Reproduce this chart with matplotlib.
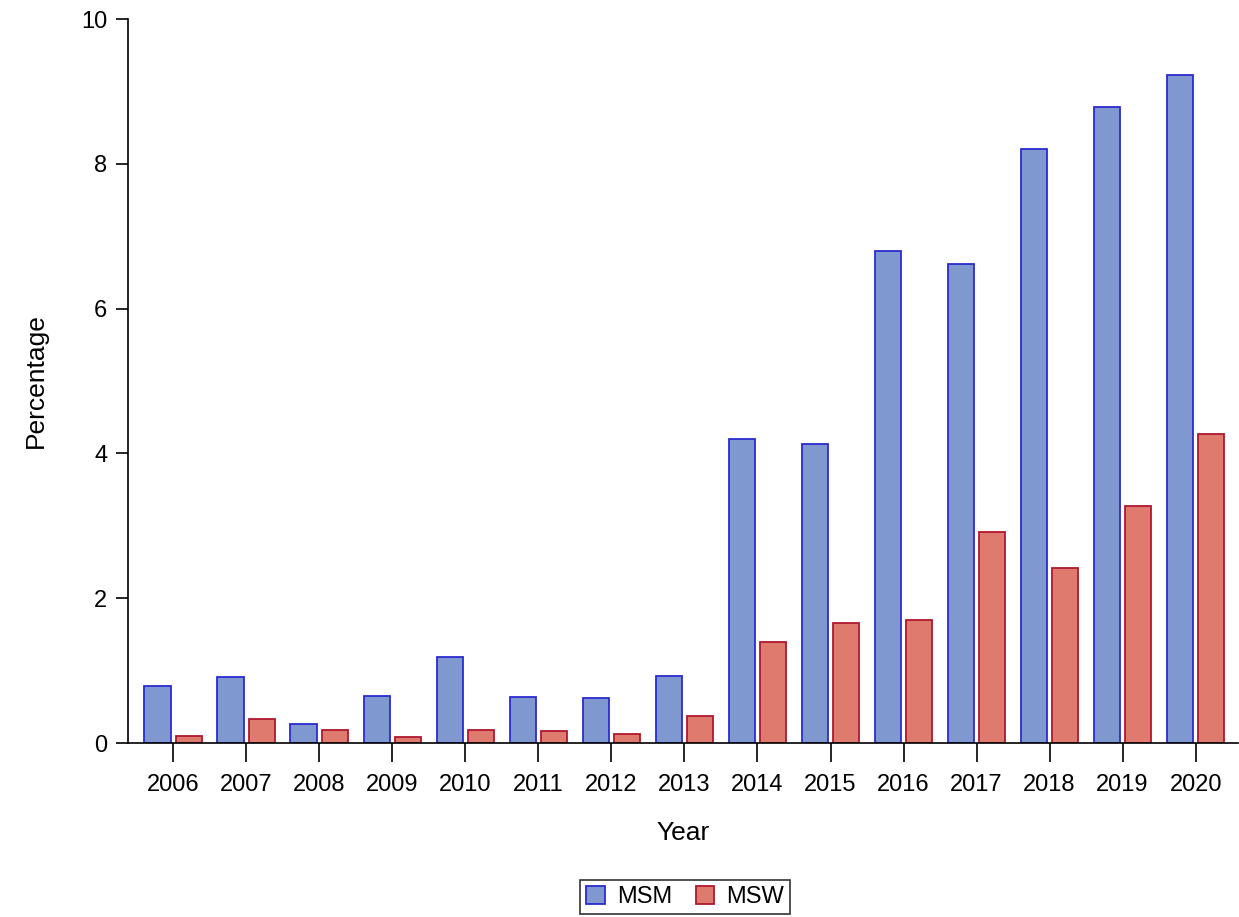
import numpy as np
import matplotlib.pyplot as plt

years = list(range(2006, 2021))
msm = [0.79, 0.91, 0.26, 0.65, 1.19, 0.64, 0.62, 0.93, 4.20, 4.13, 6.80, 6.62, 8.20, 8.79, 9.23]
msw = [0.10, 0.33, 0.18, 0.08, 0.18, 0.17, 0.12, 0.37, 1.40, 1.66, 1.70, 2.91, 2.42, 3.27, 4.27]

plt.rcParams['font.family'] = ['Arial', 'Liberation Sans', 'DejaVu Sans']
fig = plt.figure(figsize=(12.39, 9.17), dpi=100)
ax = fig.add_axes([128/1239, 1-743/917, 1110/1239, 724/917])

x = np.arange(len(years))
w = 0.36
ax.bar(x - w/2 - 0.035, msm, w, color='#7F98D0', edgecolor='#2B2BD0', linewidth=1.3, label='MSM')
ax.bar(x + w/2 + 0.035, msw, w, color='#DE7B6E', edgecolor='#B0182E', linewidth=1.3, label='MSW')

ax.set_xlim(-0.62, 14.58)
ax.set_ylim(0, 10)
ax.set_xticks(x)
ax.set_xticklabels([str(y) for y in years])
ax.set_yticks([0, 2, 4, 6, 8, 10])
ax.tick_params(direction='out', length=14, width=1.2, labelsize=17, pad=8)
ax.tick_params(axis='y', length=9, pad=6)
for s in ['top', 'right']:
    ax.spines[s].set_visible(False)
for s in ['left', 'bottom']:
    ax.spines[s].set_linewidth(1.2)
ax.set_xlabel('Year', fontsize=19, labelpad=18)
ax.set_ylabel('Percentage', fontsize=19, labelpad=24)

leg = fig.legend(loc='center', bbox_to_anchor=(685/1239, 1-897/917), ncol=2, fontsize=17,
                 frameon=True, fancybox=False, edgecolor='black', handlelength=0.8,
                 handleheight=0.8, columnspacing=1.0, handletextpad=0.5, borderpad=0.25)
leg.get_frame().set_linewidth(1.2)

fig.savefig('out.png', dpi=100)
